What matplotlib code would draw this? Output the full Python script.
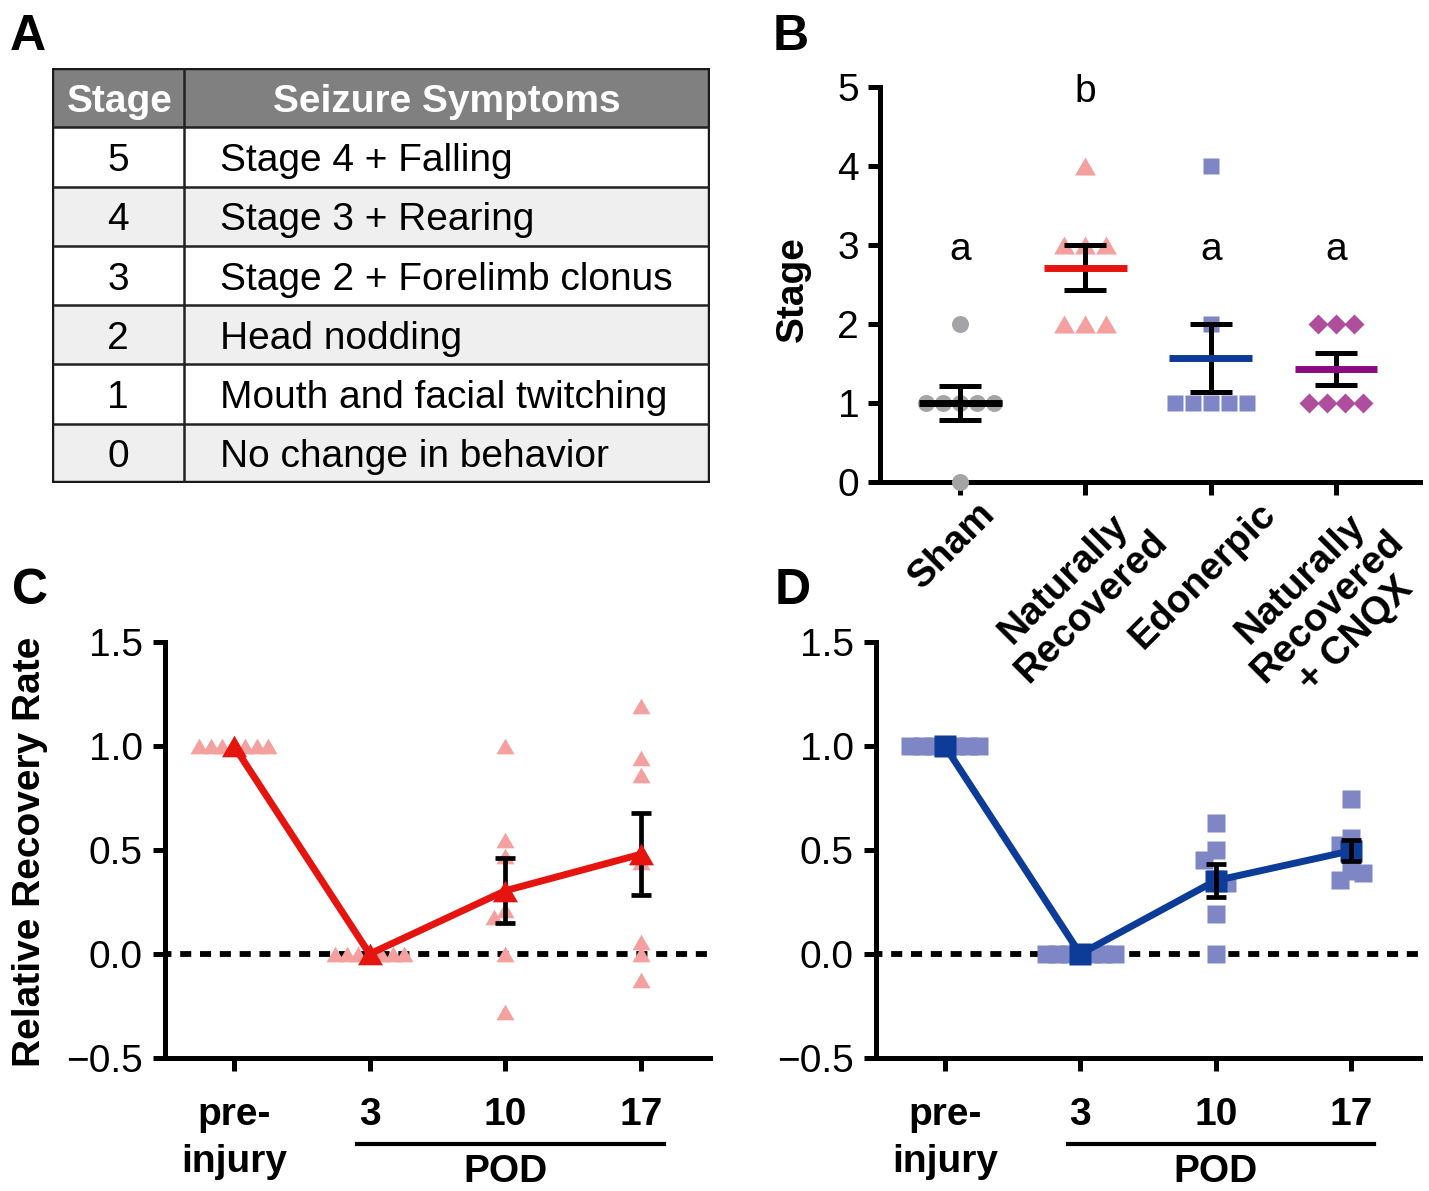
import matplotlib
matplotlib.use('Agg')
import matplotlib.pyplot as plt
import matplotlib.transforms as mtrans
from matplotlib.patches import Rectangle
from matplotlib.lines import Line2D
import numpy as np

plt.rcParams['font.family'] = ['Liberation Sans', 'DejaVu Sans']

# ---------------- data ----------------
stage_levels = [5, 4, 3, 2, 1, 0]
stage_symptoms = ["Stage 4 + Falling", "Stage 3 + Rearing", "Stage 2 + Forelimb clonus",
                  "Head nodding", "Mouth and facial twitching", "No change in behavior"]
table_header = ["Stage", "Seizure Symptoms"]

b_groups = ["Sham", "Naturally\nRecovered", "Edonerpic", "Naturally\nRecovered\n+ CNQX"]
b_sham = [0, 1, 1, 1, 1, 1, 2]
b_nat = [4, 3, 3, 3, 2, 2, 2]
b_edo = [4, 2, 1, 1, 1, 1, 1]
b_cnqx = [2, 2, 2, 1, 1, 1, 1]
b_letters = ["a", "b", "a", "a"]
b_letter_y = [2.81, 4.81, 2.81, 2.81]

time_labels = ["pre-\ninjury", "3", "10", "17"]
c_pre = [1, 1, 1, 1, 1, 1, 1]
c_pod3 = [0, 0, 0, 0, 0, 0, 0]
c_pod10 = [1.0, 0.55, 0.47, 0.21, 0.18, 0.0, -0.28]
c_pod17 = [1.19, 0.94, 0.86, 0.44, 0.056, 0.0, -0.127]

d_pre = [1, 1, 1, 1, 1, 1, 1]
d_pod3 = [0, 0, 0, 0, 0, 0, 0]
d_pod10 = [0.63, 0.50, 0.45, 0.36, 0.34, 0.19, 0.0]
d_pod17 = [0.745, 0.56, 0.525, 0.50, 0.40, 0.39, 0.355]

# ---------------- figure ----------------
W, H = 1429, 1191
fig = plt.figure(figsize=(W / 100, H / 100), dpi=100)


def add_ax(l, t, r, b):
    return fig.add_axes([l / W, 1 - b / H, (r - l) / W, (b - t) / H])


def fpt(x, y):
    return x / W, 1 - y / H


TRI = [(-1, -0.866), (1, -0.866), (0, 0.866), (-1, -0.866)]
FS = 28
LW = 3.6


def sem(v):
    v = np.asarray(v, float)
    return v.std(ddof=1) / np.sqrt(len(v))


def swarm(values, step_px, tol_px, ppx, ppy):
    vals = np.asarray(values, float)
    offs = np.zeros(len(vals))
    placed = []
    handled = set()
    uniq, counts = np.unique(vals, return_counts=True)
    for u, c in zip(uniq, counts):
        if c > 1:
            ids = [i for i in range(len(vals)) if vals[i] == u]
            for k, i in enumerate(ids):
                offs[i] = (k - (c - 1) / 2) * step_px
                placed.append(i)
                handled.add(i)
    flip = -1
    for i in sorted(range(len(vals)), key=lambda i: -vals[i]):
        if i in handled:
            continue
        cands = [0]
        for m in range(1, 10):
            cands += [flip * m, -flip * m]
        for c in cands:
            dx = c * step_px
            ok = all(not (abs(dx - offs[j]) < tol_px and abs((vals[i] - vals[j]) * ppy) < tol_px)
                     for j in placed)
            if ok:
                break
        if c != 0:
            flip = -flip
        offs[i] = dx
        placed.append(i)
    return offs / ppx


def px_scale(ax):
    pos = ax.get_position()
    x0, x1 = ax.get_xlim()
    y0, y1 = ax.get_ylim()
    return pos.width * W / (x1 - x0), pos.height * H / (y1 - y0)


def style_axes(ax):
    ax.patch.set_visible(False)
    for s in ['top', 'right']:
        ax.spines[s].set_visible(False)
    for s in ['left', 'bottom']:
        ax.spines[s].set_linewidth(LW)
        ax.spines[s].set_capstyle('projecting')
    ax.tick_params(axis='both', width=LW, length=9, labelsize=FS, color='black')


# ---------------- Panel A: table ----------------
axA = add_ax(52, 68, 710, 483)
axA.set_xlim(0, 658)
axA.set_ylim(415, 0)
axA.axis('off')
n_rows = len(stage_levels) + 1
rh = 415 / n_rows
col_x = 132
axA.add_patch(Rectangle((0, 0), 658, rh, facecolor='#808080', edgecolor='none'))
for k in range(len(stage_levels)):
    fc = 'white' if k % 2 == 0 else '#EFEFEF'
    axA.add_patch(Rectangle((0, rh * (k + 1)), 658, rh, facecolor=fc, edgecolor='none'))
for k in range(1, n_rows):
    axA.plot([0, 658], [rh * k, rh * k], color='#222222', lw=1.8, solid_capstyle='butt')
axA.plot([col_x, col_x], [0, 415], color='#222222', lw=1.8)
axA.add_patch(Rectangle((0, 0), 658, 415, facecolor='none', edgecolor='#1A1A1A', lw=3.2))
dy_txt = 4
axA.text(col_x / 2 + 2, rh / 2 + dy_txt, table_header[0], ha='center', va='center',
         color='white', fontsize=FS, fontweight='bold')
axA.text((col_x + 658) / 2, rh / 2 + dy_txt, table_header[1], ha='center', va='center',
         color='white', fontsize=FS, fontweight='bold')
for k, (lvl, sym) in enumerate(zip(stage_levels, stage_symptoms)):
    yc = rh * (k + 1.5) + dy_txt
    axA.text(col_x / 2, yc, str(lvl), ha='center', va='center', fontsize=FS)
    axA.text(168, yc, sym, ha='left', va='center', fontsize=FS)

# ---------------- Panel B ----------------
axB = add_ax(880, 87, 1420, 482)
axB.set_xlim(-0.64, 3.67)
axB.set_ylim(0, 5)
style_axes(axB)
axB.set_zorder(5)
ppx, ppy = px_scale(axB)
b_data = [b_sham, b_nat, b_edo, b_cnqx]
b_marker = ['o', TRI, 's', 'D']
b_ms = [12.2, 15, 12.2, 9.7]
b_step = [17, 21, 18, 18]
b_color = ['#A3A3A8', '#F4A09F', '#7E86C6', '#B04E9E']
b_mean_color = ['black', '#E5140F', '#0C3C98', '#8A0A82']
for i, vals in enumerate(b_data):
    offs = swarm(vals, b_step[i], 11, ppx, ppy)
    axB.plot(i + offs, vals, ls='none', marker=b_marker[i], ms=b_ms[i], mfc=b_color[i],
             mec='none', zorder=3, clip_on=False)
    m = np.mean(vals)
    axB.errorbar([i], [m], yerr=[sem(vals)], fmt='none', ecolor='black', elinewidth=3.6,
                 capsize=15, capthick=3.6, zorder=4)
    axB.hlines(m, i - 0.33, i + 0.33, colors=b_mean_color[i], lw=5, zorder=5)
    axB.text(i, b_letter_y[i], b_letters[i], ha='center', va='baseline', fontsize=FS)
axB.set_yticks(range(6))
axB.set_xticks(range(len(b_groups)))
axB.set_xticklabels(b_groups, rotation=45, ha='center', va='top', fontweight='bold',
                    fontsize=FS, linespacing=1.12)
axB.tick_params(axis='x', pad=1)
axB.tick_params(axis='y', pad=6)
# nudge rotated labels slightly left, as in the reference
shift = mtrans.ScaledTranslation(-8 / 100, 0, fig.dpi_scale_trans)
for t in axB.get_xticklabels():
    t.set_transform(t.get_transform() + shift)
fig.text(*fpt(793, 289), 'Stage', rotation=90, ha='center', va='center', fontsize=FS,
         fontweight='bold')


# ---------------- Panels C & D ----------------
def time_panel(l, r, series, marker, ms_pt, ms_mean, step, pale, dark, err_z):
    ax = add_ax(l, 642, r, 1058)
    ax.set_xlim(-0.508, 3.508)
    ax.set_ylim(-0.5, 1.5)
    style_axes(ax)
    ppx, ppy = px_scale(ax)
    ax.axhline(0, color='black', lw=4.2, ls=(0.8, (1.9, 1.5)), zorder=2)
    for i, vals in enumerate(series):
        offs = swarm(vals, step, 11, ppx, ppy)
        ax.plot(i + offs, vals, ls='none', marker=marker, ms=ms_pt, mfc=pale, mec='none',
                zorder=3, clip_on=False)
    means = [np.mean(v) for v in series]
    sems = [sem(v) for v in series]
    xs = np.arange(len(series))
    ax.plot(xs, means, color=dark, lw=5, marker=marker, ms=ms_mean, mfc=dark, mec='none',
            zorder=5)
    ex = [x for x, s in zip(xs, sems) if s > 0]
    ey = [m for m, s in zip(means, sems) if s > 0]
    ee = [s for s in sems if s > 0]
    ax.errorbar(ex, ey, yerr=ee, fmt='none', ecolor='black', elinewidth=3.4, capsize=7.5,
                capthick=3.4, zorder=err_z)
    yt = [-0.5, 0.0, 0.5, 1.0, 1.5]
    ax.set_yticks(yt)
    ax.set_yticklabels([f"{v:.1f}".replace('-', '\u2212') for v in yt])
    ax.set_xticks(xs)
    ax.set_xticklabels(time_labels, fontweight='bold', fontsize=FS)
    ax.get_xticklabels()[0].set_linespacing(1.38)
    ax.tick_params(axis='x', pad=19)
    ax.tick_params(axis='y', pad=7)
    tr = mtrans.blended_transform_factory(ax.transData, ax.transAxes)
    ax.add_line(Line2D([0.91, 3.17], [-0.207, -0.207], transform=tr, color='black', lw=3,
                       clip_on=False))
    ax.text(2, -0.275, 'POD', transform=tr, ha='center', va='center', fontsize=FS,
            fontweight='bold')
    return ax


axC = time_panel(165, 710, [c_pre, c_pod3, c_pod10, c_pod17], TRI, 13, 18, 11.5,
                 '#F4A09F', '#E5140F', 4)
axD = time_panel(876, 1420, [d_pre, d_pod3, d_pod10, d_pod17], 's', 12.3, 15.5, 11.5,
                 '#7E86C6', '#0C3C98', 6)
fig.text(*fpt(30, 852), 'Relative Recovery Rate', rotation=90, ha='center', va='center',
         fontsize=FS, fontweight='bold')

# ---------------- panel letters ----------------
for lab, x, y in [('A', 10, 50), ('B', 773, 50), ('C', 12, 604), ('D', 775, 604)]:
    fig.text(*fpt(x, y), lab, fontsize=36, fontweight='bold', ha='left', va='baseline')

fig.savefig('out.png', dpi=100)
